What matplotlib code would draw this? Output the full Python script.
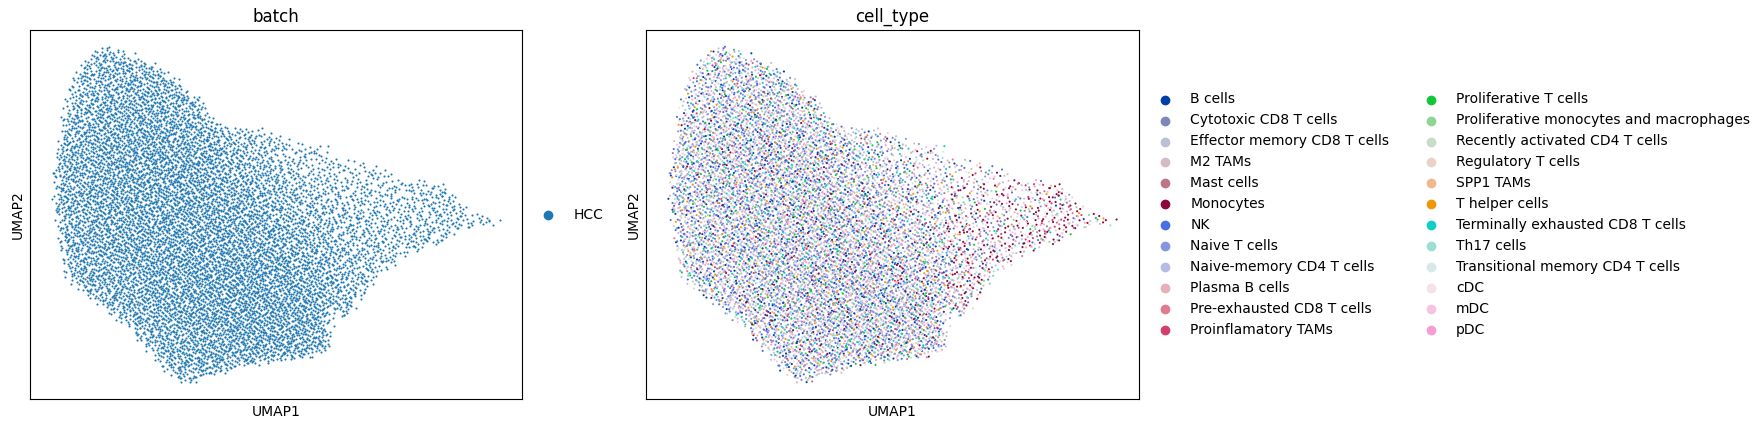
import numpy as np
import matplotlib
matplotlib.use("Agg")
import matplotlib.pyplot as plt
from matplotlib.path import Path

# outline of the UMAP cloud (axes fraction, y up)
outline_x = [0.149, 0.181, 0.214, 0.272, 0.312, 0.345, 0.356, 0.392, 0.454, 0.497,
             0.519, 0.592, 0.617, 0.664, 0.722, 0.737, 0.787, 0.831, 0.860, 0.882,
             0.954, 0.911, 0.860, 0.809, 0.758, 0.722, 0.700, 0.657, 0.635, 0.602,
             0.599, 0.562, 0.490, 0.403, 0.352, 0.308, 0.287, 0.265, 0.236, 0.178,
             0.134, 0.091, 0.069, 0.054, 0.044, 0.047, 0.054, 0.076, 0.098, 0.127]
outline_y = [0.957, 0.943, 0.925, 0.889, 0.839, 0.812, 0.767, 0.739, 0.730, 0.721,
             0.703, 0.685, 0.658, 0.644, 0.617, 0.595, 0.595, 0.581, 0.531, 0.504,
             0.486, 0.468, 0.459, 0.414, 0.396, 0.359, 0.332, 0.269, 0.214, 0.242,
             0.142, 0.115, 0.106, 0.088, 0.061, 0.047, 0.061, 0.088, 0.133, 0.214,
             0.260, 0.296, 0.341, 0.450, 0.540, 0.631, 0.694, 0.830, 0.902, 0.938]

# relative point density at grid cell centres (rows bottom -> top, cols left -> right)
density = [
    [0.5, 0.5, 0.6, 0.7, 0.6, 0.5, 0.4, 0.3, 0.3, 0.3],
    [0.5, 0.5, 0.7, 0.85, 0.9, 0.85, 0.55, 0.35, 0.3, 0.3],
    [0.5, 0.65, 0.85, 0.95, 0.95, 0.9, 0.55, 0.4, 0.3, 0.3],
    [0.6, 0.8, 0.9, 0.95, 0.95, 0.8, 0.5, 0.4, 0.35, 0.3],
    [0.7, 0.85, 0.9, 0.9, 0.85, 0.65, 0.45, 0.4, 0.45, 0.4],
    [0.7, 0.85, 0.9, 0.9, 0.75, 0.5, 0.35, 0.35, 0.4, 0.35],
    [0.7, 0.85, 0.9, 0.85, 0.55, 0.3, 0.22, 0.22, 0.25, 0.25],
    [0.6, 0.8, 0.85, 0.7, 0.4, 0.25, 0.25, 0.25, 0.25, 0.25],
    [0.5, 0.7, 0.75, 0.6, 0.4, 0.25, 0.25, 0.25, 0.25, 0.25],
    [0.5, 0.6, 0.6, 0.5, 0.4, 0.25, 0.25, 0.25, 0.25, 0.25],
]

cell_types = ["B cells", "Cytotoxic CD8 T cells", "Effector memory CD8 T cells", "M2 TAMs",
              "Mast cells", "Monocytes", "NK", "Naive T cells", "Naive-memory CD4 T cells",
              "Plasma B cells", "Pre-exhausted CD8 T cells", "Proinflamatory TAMs",
              "Proliferative T cells", "Proliferative monocytes and macrophages",
              "Recently activated CD4 T cells", "Regulatory T cells", "SPP1 TAMs",
              "T helper cells", "Terminally exhausted CD8 T cells", "Th17 cells",
              "Transitional memory CD4 T cells", "cDC", "mDC", "pDC"]
palette = ["#023fa5", "#7d87b9", "#bec1d4", "#d6bcc0", "#bb7784", "#8e063b", "#4a6fe3",
           "#8595e1", "#b5bbe3", "#e6afb9", "#e07b91", "#d33f6a", "#11c638", "#8dd593",
           "#c6dec7", "#ead3c6", "#f0b98d", "#ef9708", "#0fcfc0", "#9cded6", "#d5eae7",
           "#f3e1eb", "#f6c4e1", "#f79cd4"]

# share of each cell type on the left (lymphoid) and right (myeloid) part
lymphoid_mix = [7, 6, 4, 6, 1, 1, 13, 11, 8, 5, 2, 1, 2.5, 1.5, 2.5, 3, 1.5, 2.5, 4, 3, 2.5, 1, 2, 1]
myeloid_mix = [0.5, 1, 1.5, 6, 3, 22, 1.5, 1, 1, 2, 1, 6, 0.5, 2, 1, 1, 2, 0.5, 0.5, 1, 1.5, 3, 5, 2]
# myeloid share per grid column, and a damping factor per grid row
myeloid_col = [0.0, 0.0, 0.03, 0.05, 0.05, 0.1, 0.5, 0.8, 0.85, 0.8]
myeloid_row = [0.6, 0.7, 0.9, 1.0, 1.0, 1.0, 0.8, 0.5, 0.3, 0.2]

batch_names = ["HCC"]
batch_colors = ["#1f77b4"]


def halton(n, base):
    out = np.zeros(n)
    for i in range(n):
        f, r, k = 1.0, 0.0, i + 1
        while k > 0:
            f /= base
            r += f * (k % base)
            k //= base
        out[i] = r
    return out


def grid_value(grid, x, y):
    # bilinear lookup on a 10x10 grid of cell centres
    g = np.array(grid, dtype=float)
    gx = np.clip(x * 10 - 0.5, 0, 9)
    gy = np.clip(y * 10 - 0.5, 0, 9)
    x0 = np.minimum(gx.astype(int), 8)
    y0 = np.minimum(gy.astype(int), 8)
    tx, ty = gx - x0, gy - y0
    return (g[y0, x0] * (1 - tx) * (1 - ty) + g[y0, x0 + 1] * tx * (1 - ty)
            + g[y0 + 1, x0] * (1 - tx) * ty + g[y0 + 1, x0 + 1] * tx * ty)


def edge_distance(px, py, vx, vy):
    ax_, ay_ = np.array(vx), np.array(vy)
    bx_, by_ = np.roll(ax_, -1), np.roll(ay_, -1)
    d = np.full(len(px), np.inf)
    for x1, y1, x2, y2 in zip(ax_, ay_, bx_, by_):
        dx, dy = x2 - x1, y2 - y1
        t = np.clip(((px - x1) * dx + (py - y1) * dy) / (dx * dx + dy * dy), 0, 1)
        d = np.minimum(d, np.hypot(px - x1 - t * dx, py - y1 - t * dy))
    return d


n_cand = 32000
hx = halton(n_cand, 2)
hy = halton(n_cand, 3)
hd = halton(n_cand, 5)
hc = halton(n_cand, 7)

poly = Path(np.column_stack([outline_x, outline_y]))
inside = poly.contains_points(np.column_stack([hx, hy]))
dist = edge_distance(hx, hy, outline_x, outline_y)
fade = np.where(inside, np.clip(0.3 + dist / 0.025, 0, 1), np.clip(0.2 - dist / 0.03, 0, 1))
keep = hd < grid_value(density, hx, hy) * fade
fx, fy = hx[keep], hy[keep]
pick = hc[keep]

lym = np.array(lymphoid_mix) / np.sum(lymphoid_mix)
mye = np.array(myeloid_mix) / np.sum(myeloid_mix)
col = np.clip((fx * 10).astype(int), 0, 9)
row = np.clip((fy * 10).astype(int), 0, 9)
share = np.array(myeloid_col)[col] * np.array(myeloid_row)[row]
labels = np.zeros(len(fx), dtype=int)
for i in range(len(fx)):
    w = np.cumsum((1 - share[i]) * lym + share[i] * mye)
    labels[i] = min(np.searchsorted(w, pick[i]), len(cell_types) - 1)

umap1 = -5 + 22 * fx
umap2 = -2 + 16 * fy
size = 0.75 * 120000 / len(umap1)

fig = plt.figure(figsize=(17.64, 4.29), dpi=100)
ax1 = fig.add_axes([30 / 1764, 30 / 429, 492 / 1764, 369 / 429])
ax2 = fig.add_axes([646 / 1764, 30 / 429, 493 / 1764, 369 / 429])

ax1.scatter(umap1, umap2, c=batch_colors[0], s=size, marker=".", linewidths=0)
ax1.scatter([], [], c=batch_colors[0], label=batch_names[0])
ax1.legend(frameon=False, loc="center left", bbox_to_anchor=(1, 0.5), ncol=1, fontsize=10)
ax1.set_title("batch", fontsize=12)

ax2.scatter(umap1, umap2, c=np.array(palette)[labels], s=size, marker=".", linewidths=0)
for name, colr in zip(cell_types, palette):
    ax2.scatter([], [], c=colr, label=name)
ax2.legend(frameon=False, loc="center left", bbox_to_anchor=(1, 0.5), ncol=2, fontsize=10)
ax2.set_title("cell_type", fontsize=12)

for ax in (ax1, ax2):
    ax.set_xticks([])
    ax.set_yticks([])
    ax.set_xlabel("UMAP1")
    ax.set_ylabel("UMAP2")

plt.savefig("out.png", dpi=100)
